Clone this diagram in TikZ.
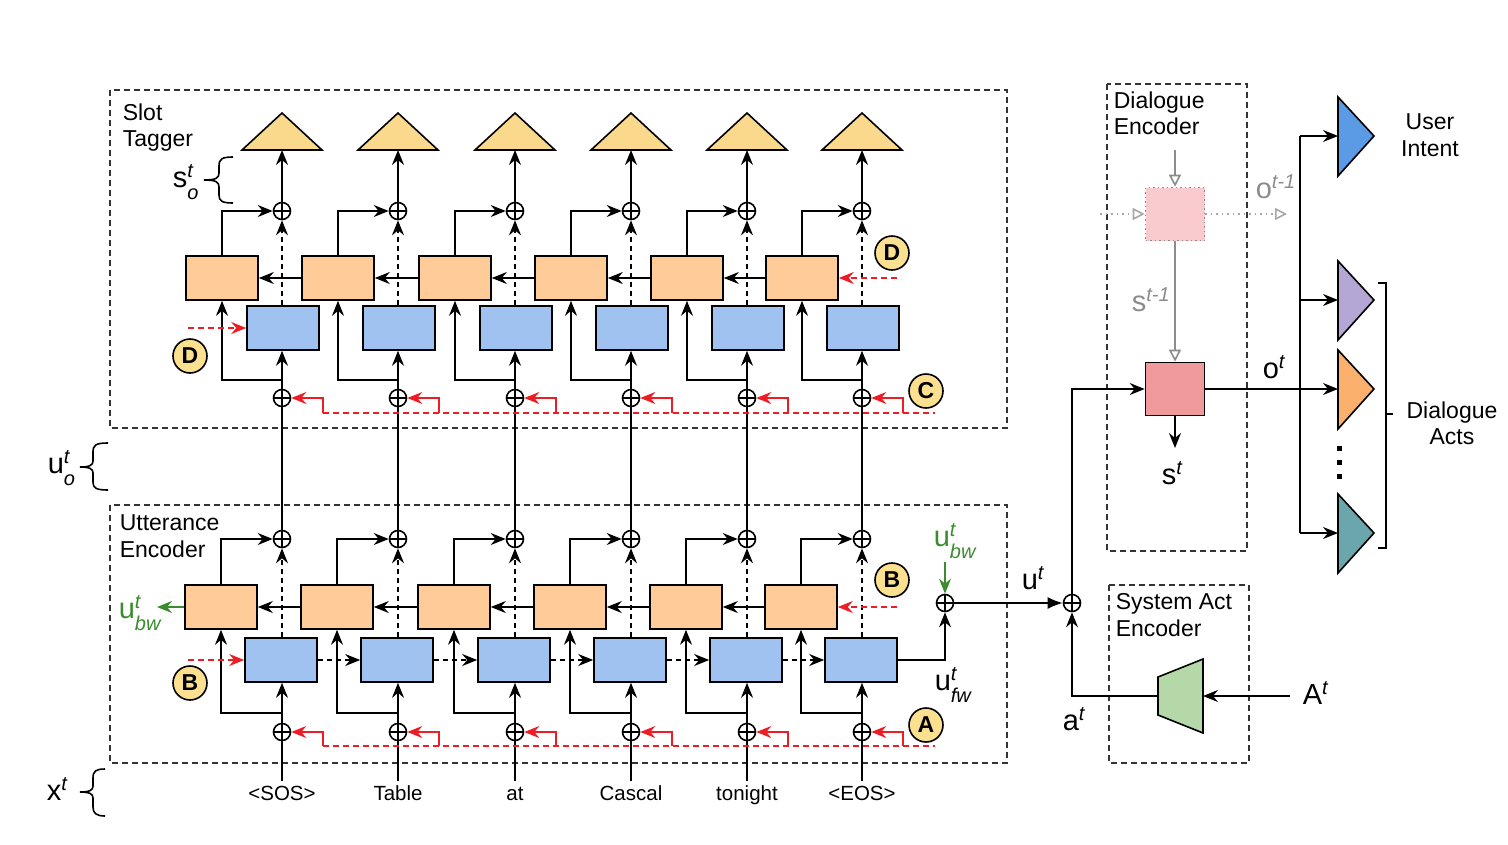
\documentclass[tikz,border=0pt]{standalone}
\usepackage{fontspec}
\setmainfont{Liberation Sans}
\usetikzlibrary{arrows.meta,calc}
\definecolor{yel}{HTML}{FAD98C}
\definecolor{ora}{HTML}{FFCC99}
\definecolor{blu}{HTML}{A0C2F0}
\definecolor{pinkc}{HTML}{F09A9C}
\definecolor{fadec}{HTML}{F9CACE}
\definecolor{uiblue}{HTML}{5B9BE6}
\definecolor{purp}{HTML}{B4A7D6}
\definecolor{orat}{HTML}{FBB06E}
\definecolor{tealc}{HTML}{6BA6AD}
\definecolor{trapg}{HTML}{B5D8A8}
\definecolor{badgey}{HTML}{FBE08F}
\definecolor{grn}{HTML}{3A8C2E}
\definecolor{redc}{HTML}{EE1C25}
\definecolor{grayc}{HTML}{8C8C8C}
\definecolor{lgray}{HTML}{A8A8A8}
\newcommand\scrf{\fontsize{20}{20}\selectfont\itshape}
\newcommand\ssb[3]{#1\rlap{\raisebox{10pt}{\scrf #2}}\raisebox{-12pt}{\scrf #3}}
\newcommand\ssp[2]{#1\raisebox{10pt}{\scrf #2}}
\tikzset{
 opl/.style={circle,draw,minimum size=17pt,inner sep=0pt,path picture={\draw (path picture bounding box.north)--(path picture bounding box.south) (path picture bounding box.west)--(path picture bounding box.east);}},
 obox/.style={draw,fill=ora,minimum width=72pt,minimum height=44pt,inner sep=0pt},
 bbox/.style={draw,fill=blu,minimum width=72pt,minimum height=44pt,inner sep=0pt},
 badge/.style={circle,draw,fill=badgey,minimum size=34pt,inner sep=0pt,font=\bfseries\fontsize{23}{23}\selectfont},
 grp/.style={draw=black!80,dash pattern=on 6pt off 4pt,line width=1.6pt},
 lbl/.style={font=\fontsize{23}{26.5}\selectfont,align=left,anchor=north west,inner sep=0pt},
 clbl/.style={font=\fontsize{23}{26.5}\selectfont,align=center,anchor=north,inner sep=0pt},
 mlbl/.style={font=\fontsize{29}{29}\selectfont,inner sep=0pt},
 wlbl/.style={font=\fontsize{20.5}{24}\selectfont,anchor=base,text height=15pt,text depth=4pt,inner sep=3pt},
 arr/.style={-{Stealth[length=15pt,width=12pt,inset=5pt]}},
 dsh/.style={dash pattern=on 5pt off 4pt},
 redarr/.style={arr,draw=redc},
 reddash/.style={draw=redc,dash pattern=on 6pt off 4pt},
 garrow/.style={arr,draw=grn},
 garr/.style={-{Triangle[open,length=12pt,width=12pt]},draw=grayc},
 farr/.style={-{Triangle[open,length=12pt,width=12pt]},draw=lgray,dash pattern=on 1.5pt off 4pt},
 fade/.style={draw=grayc,fill=fadec,dash pattern=on 1.5pt off 3pt,minimum width=59pt,minimum height=53pt,inner sep=0pt},
 pbox/.style={draw,fill=pinkc,minimum width=59pt,minimum height=53pt,inner sep=0pt},
}
\begin{document}
\begin{tikzpicture}[x=1pt,y=-1pt,line width=1.6pt]
\useasboundingbox (0,0) rectangle (1508,844);

% group boxes
\draw[grp] (110,90) rectangle (1007,428);
\draw[grp] (110,505) rectangle (1007,763);
\draw[grp] (1107,84) rectangle (1247,551);
\draw[grp] (1109,585) rectangle (1249,763);

\node[lbl] (tST) at (122,103) {Slot\\Tagger};
\node[lbl] (tUE) at (119,514) {Utterance\\Encoder};
\node[lbl] (tDE) at (1113,91) {Dialogue\\Encoder};
\node[lbl] (tSA) at (1115,593) {System Act\\Encoder};

% columns
\foreach \x [count=\i] in {282,398,515,631,747,862} {
  \draw[fill=yel] (\x-40,150) -- (\x,113) -- (\x+40,150) -- cycle;
  \coordinate (tb\i) at (\x,150);
  \node[opl] (sop\i) at (\x,211) {};
  \node[obox] (so\i) at (\x-60,278) {};
  \node[bbox] (sb\i) at (\x+1,328) {};
  \node[opl] (lop\i) at (\x,398) {};
  \coordinate (br\i) at (\x,380);
  \coordinate (rr\i) at (\x+41,413);
  \node[opl] (uop\i) at (\x,539) {};
  \node[obox] (uo\i) at (\x-61,607) {};
  \node[bbox] (ub\i) at (\x-1,660) {};
  \node[opl] (ulop\i) at (\x,732) {};
  \coordinate (ubr\i) at (\x,713);
  \coordinate (urr\i) at (\x+41,746);
}
\foreach \x/\w [count=\i] in {282/{<SOS>},398/Table,515/at,631/Cascal,747/tonight,862/{<EOS>}} {
  \node[wlbl] (w\i) at (\x,800) {\w};
}
\foreach \i in {1,...,6} {
  \draw[arr] (sop\i) -- (tb\i);
  \draw[arr] (so\i.north) |- (sop\i);
  \draw[arr,dsh] (sb\i.north -| sop\i) -- (sop\i);
  \draw[arr] (lop\i) -- (lop\i |- sb\i.south);
  \draw[arr] (br\i) -| (so\i.south);
  \draw[redarr] (rr\i) |- (lop\i);
  \draw (uop\i) -- (lop\i);
  \draw[arr] (uo\i.north) |- (uop\i);
  \draw[arr,dsh] (ub\i.north -| uop\i) -- (uop\i);
  \draw[arr] (ulop\i) -- (ulop\i |- ub\i.south);
  \draw[arr] (ubr\i) -| (uo\i.south);
  \draw[redarr] (urr\i) |- (ulop\i);
  \draw (w\i.north) -- (ulop\i);
}
\foreach \i/\j in {1/2,2/3,3/4,4/5,5/6} {
  \draw[arr] (so\j.west) -- (so\i.east);
  \draw[arr] (uo\j.west) -- (uo\i.east);
  \draw[arr,dsh] (ub\i.east) -- (ub\j.west);
}
\coordinate (rend) at (935,413);
\draw[reddash] (rr1) -- (rend);
\coordinate (urend) at (935,746);
\draw[reddash] (urr1) -- (urend);

% badges
\node[badge] (bD1) at (892,253) {D};
\node[badge] (bD2) at (190,356) {D};
\node[badge] (bC) at (926,391) {C};
\node[badge] (bB1) at (190,683) {B};
\node[badge] (bB2) at (892,580) {B};
\node[badge] (bA) at (926,725) {A};
\coordinate (dD1) at (897,278);
\draw[redarr,reddash] (dD1) -- (so6.east);
\coordinate (dD2) at (188,328);
\draw[redarr,reddash] (dD2) -- (sb1.west);
\coordinate (dB2) at (897,607);
\draw[redarr,reddash] (dB2) -- (uo6.east);
\coordinate (dB1) at (188,660);
\draw[redarr,reddash] (dB1) -- (ub1.west);

% braces and side labels
\draw (233,157) .. controls (222,157) and (219,159) .. (219,166) -- (219,173) .. controls (219,178) and (216,180) .. (204,180) .. controls (216,180) and (219,182) .. (219,187) -- (219,195) .. controls (219,201) and (222,203) .. (233,203);
\draw (108,443) .. controls (96,443) and (93,445) .. (93,452) -- (93,461) .. controls (93,465) and (90,467) .. (80,467) .. controls (90,467) and (93,469) .. (93,473) -- (93,482) .. controls (93,488) and (96,490) .. (108,490);
\draw (105,769) .. controls (96,769) and (93,771) .. (93,778) -- (93,786) .. controls (93,790) and (90,792) .. (80,792) .. controls (90,792) and (93,794) .. (93,798) -- (93,807) .. controls (93,813) and (96,816) .. (105,816);
\node[mlbl,anchor=base west] (lso) at (172,187) {\ssb{s}{t}{o}};
\node[mlbl,anchor=base west] (luo) at (47,473) {\ssb{u}{t}{o}};
\node[mlbl,anchor=base west] (lxt) at (46,800) {\ssp{x}{t}};

% utterance outputs
\coordinate (gL) at (157,607);
\draw[garrow] (uo1.west) -- (gL);
\node[mlbl,text=grn,anchor=base west] (ubwL) at (118,618) {\ssb{u}{t}{bw}};
\node[opl] (fop) at (945,603) {};
\draw[arr] (ub6.east) -| (fop);
\node[mlbl,text=grn,anchor=base west] (ubwR) at (933,546) {\ssb{u}{t}{bw}};
\coordinate (gR) at (945,562);
\draw[garrow] (gR) -- (fop);
\node[mlbl,anchor=base west] (ufw) at (934,690) {\ssb{u}{t}{fw}};
\node[opl] (cop) at (1072,603) {};
\draw[-{Latex[length=15pt,width=12pt]}] (fop) -- (cop);
\node[mlbl,anchor=base west] (ut) at (1021,589) {\ssp{u}{t}};

% dialogue encoder
\node[fade] (fadeb) at (1175,214) {};
\node[pbox] (pink) at (1175,389) {};
\coordinate (gin) at (1175,150);
\draw[garr] (gin) -- (fadeb.north);
\draw[garr] (fadeb.south) -- (pink.north);
\coordinate (fin) at (1100,214);
\coordinate (fout) at (1287,214);
\draw[farr] (fin) -- (fadeb.west);
\draw[farr] (fadeb.east) -- (fout);
\draw[arr] (cop) |- (pink.west);
\coordinate (sto) at (1175,448);
\draw[arr] (pink.south) -- (sto);
\node[mlbl,anchor=base west] (lst) at (1161,484) {\ssp{s}{t}};
\node[mlbl,text=grayc,anchor=base west] (lst1) at (1131,311) {\ssp{s}{t-1}};
\node[mlbl,text=grayc,anchor=base west] (lot1) at (1255,198) {\ssp{o}{t-1}};
\node[mlbl,anchor=base west] (lot) at (1262,378) {\ssp{o}{t}};

% system act encoder
\draw[fill=trapg] (1158,677) -- (1203,659) -- (1203,733) -- (1158,715) -- cycle;
\coordinate (trL) at (1158,696);
\coordinate (trR) at (1203,696);
\draw[arr] (trL) -| (cop);
\coordinate (Ain) at (1290,696);
\draw[arr] (Ain) -- (trR);
\node[mlbl,anchor=base west] (lAt) at (1302,704) {\ssp{A}{t}};
\node[mlbl,anchor=base west] (lat) at (1062,730) {\ssp{a}{t}};

% outputs
\coordinate (tUI) at (1338,136);
\coordinate (tP) at (1338,300);
\coordinate (tO) at (1338,389);
\coordinate (tT) at (1338,533);
\coordinate (kT) at (1300,136);
\coordinate (kP) at (1300,300);
\coordinate (kB) at (1300,533);
\draw (kT) -- (kB);
\draw[arr] (kT) -- (tUI);
\draw[arr] (kP) -- (tP);
\draw[arr] (kB) -- (tT);
\draw[arr] (pink.east) -- (tO);
\draw[fill=uiblue] (1338,97) -- (1374,136) -- (1338,176) -- cycle;
\draw[fill=purp] (1338,261) -- (1374,300) -- (1338,340) -- cycle;
\draw[fill=orat] (1338,350) -- (1374,389) -- (1338,429) -- cycle;
\draw[fill=tealc] (1338,494) -- (1374,533) -- (1338,573) -- cycle;
\fill (1336.5,446) rectangle ++(5,5);
\fill (1336.5,460) rectangle ++(5,5);
\fill (1336.5,474) rectangle ++(5,5);
\draw (1378,283) -- (1386,283) -- (1386,548) -- (1378,548);
\draw (1386,414) -- (1393,414);
\node[clbl] (lUI) at (1430,113) {User\\Intent};
\node[clbl] (lDA) at (1452,401) {Dialogue\\Acts};
\end{tikzpicture}
\end{document}
